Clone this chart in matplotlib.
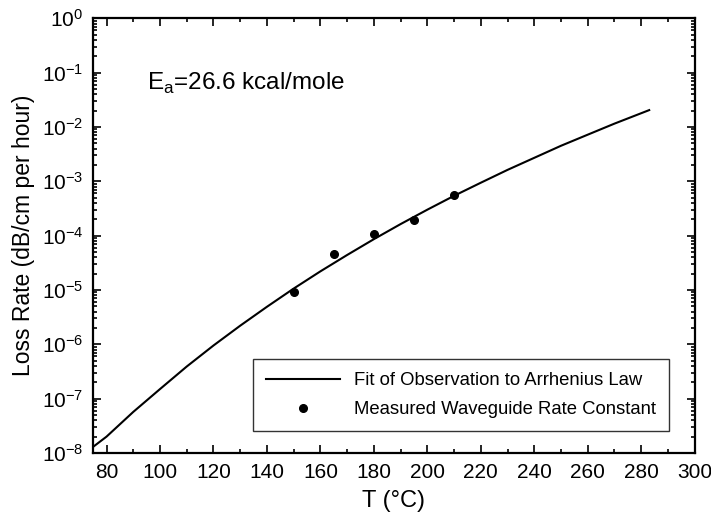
import numpy as np
import matplotlib
matplotlib.use('Agg')
import matplotlib.pyplot as plt
from matplotlib.ticker import LogLocator, MultipleLocator, NullFormatter

plt.rcParams['font.family'] = ['Liberation Sans', 'DejaVu Sans']
plt.rcParams['mathtext.fontset'] = 'custom'
plt.rcParams['mathtext.rm'] = 'Liberation Sans'

# Arrhenius fit curve (T in deg C, loss rate in dB/cm per hour)
fit_T = [75, 80, 90, 100, 110, 120, 130, 140, 150, 160, 170,
         180, 190, 200, 210, 220, 230, 240, 250, 260, 270, 283]
fit_rate = [1.3e-8, 2.0e-8, 5.7e-8, 1.5e-7, 3.9e-7, 9.5e-7, 2.2e-6, 4.9e-6,
            1.06e-5, 2.2e-5, 4.4e-5, 8.6e-5, 1.63e-4, 3.0e-4, 5.4e-4,
            9.4e-4, 1.62e-3, 2.7e-3, 4.5e-3, 7.2e-3, 1.15e-2, 2.04e-2]

# measured waveguide rate constants
meas_T = [150, 165, 180, 195, 210]
meas_rate = [9.2e-6, 4.5e-5, 1.07e-4, 1.95e-4, 5.6e-4]

x_ticks = [80, 100, 120, 140, 160, 180, 200, 220, 240, 260, 280, 300]

fig = plt.figure(figsize=(7.11, 5.21), dpi=100)
ax = fig.add_axes([0.131, 0.1305, 0.846, 0.8345])

ax.plot(fit_T, fit_rate, color='black', lw=1.5,
        label='Fit of Observation to Arrhenius Law')
ax.plot(meas_T, meas_rate, 'o', color='black', ms=5.5,
        label='Measured Waveguide Rate Constant')

ax.set_yscale('log')
ax.set_xlim(75, 300)
ax.set_ylim(1e-8, 1e0)
ax.set_xticks(x_ticks)
ax.xaxis.set_minor_locator(MultipleLocator(10))
ax.yaxis.set_major_locator(LogLocator(base=10, numticks=20))
ax.yaxis.set_minor_locator(LogLocator(base=10, subs=np.arange(2, 10), numticks=20))
ax.yaxis.set_minor_formatter(NullFormatter())

ax.tick_params(which='both', direction='in', top=True, right=True, width=1.2)
ax.tick_params(which='major', length=6, labelsize=15, pad=7)
ax.tick_params(which='minor', length=3)
for s in ax.spines.values():
    s.set_linewidth(1.6)

ax.set_xlabel('T (°C)', fontsize=17, labelpad=6)
ax.set_ylabel('Loss Rate (dB/cm per hour)', fontsize=16.5, labelpad=5)

ax.text(0.09, 0.85, r'E$_\mathregular{a}$=26.6 kcal/mole', transform=ax.transAxes,
        fontsize=17.5, va='center')

leg = ax.legend(loc='lower right', bbox_to_anchor=(0.958, 0.05), borderaxespad=0,
                fontsize=13.3, frameon=True, fancybox=False, edgecolor='black',
                handlelength=4.0, borderpad=0.7, labelspacing=0.65)
leg.get_frame().set_linewidth(1.0)

fig.savefig('out.png', dpi=100)
